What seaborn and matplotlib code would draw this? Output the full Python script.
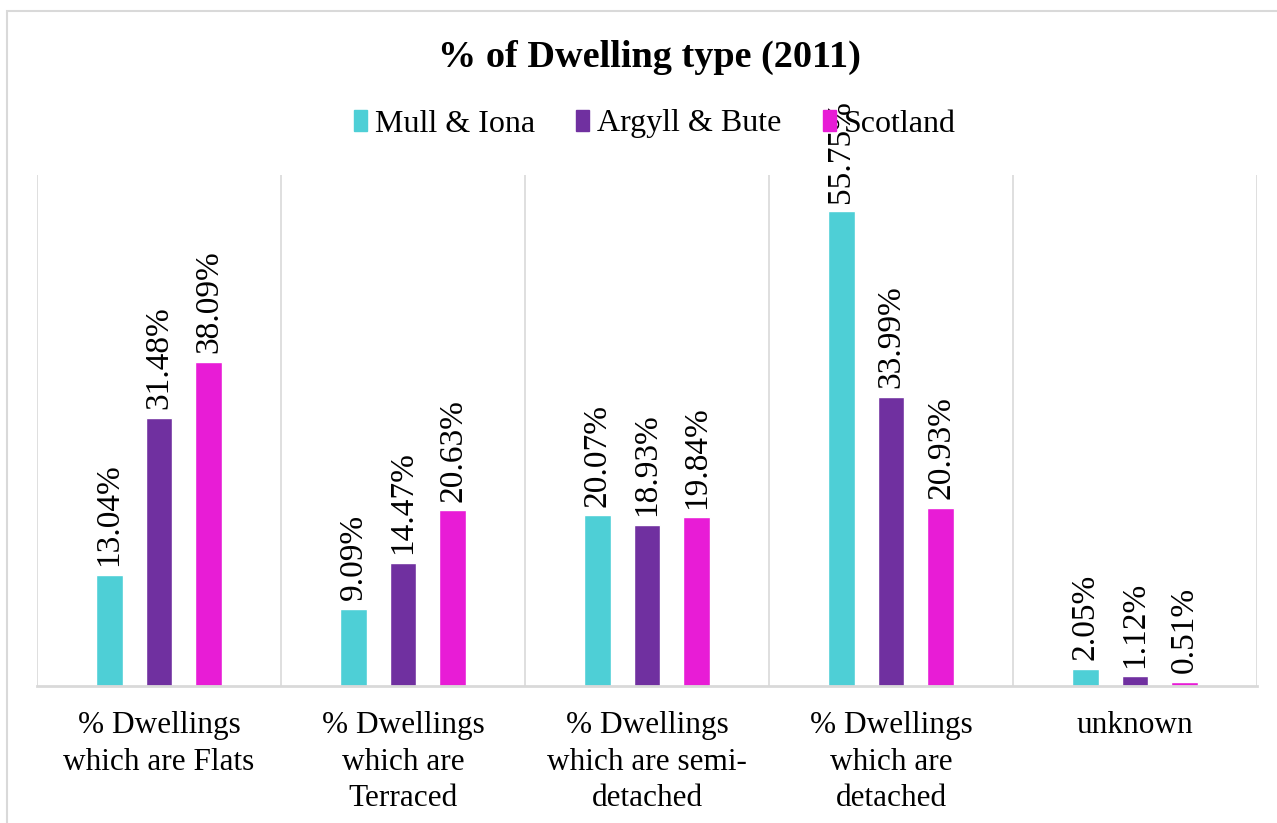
import pandas as pd
import matplotlib.pyplot as plt
import seaborn as sns
from matplotlib.patches import Rectangle

# data
categories = ["% Dwellings\nwhich are Flats", "% Dwellings\nwhich are\nTerraced",
              "% Dwellings\nwhich are semi-\ndetached", "% Dwellings\nwhich are\ndetached",
              "unknown"]
series = ["Mull & Iona", "Argyll & Bute", "Scotland"]
mull = [13.04, 9.09, 20.07, 55.75, 2.05]
argyll = [31.48, 14.47, 18.93, 33.99, 1.12]
scotland = [38.09, 20.63, 19.84, 20.93, 0.51]
colors = ["#4ECFD6", "#7030A0", "#E81CD6"]

rows = []
for name, vals in zip(series, [mull, argyll, scotland]):
    for c, v in zip(categories, vals):
        rows.append({"category": c, "series": name, "value": v})
df = pd.DataFrame(rows)

sns.set_style("white")
plt.rcParams["font.family"] = ["Liberation Serif", "DejaVu Serif"]
plt.rcParams["text.color"] = "black"
plt.rcParams["xtick.color"] = "black"

fig = plt.figure(figsize=(12.77, 8.23), dpi=100)
ax = fig.add_axes([37 / 1277, 137 / 823, 1220 / 1277, 511 / 823])

sns.barplot(data=df, x="category", y="value", hue="series", palette=colors,
            width=0.612, gap=0.46, ax=ax, legend=False, saturation=1)

# value labels
for cont, vals in zip(ax.containers, [mull, argyll, scotland]):
    for bar, v in zip(cont, vals):
        ax.text(bar.get_x() + bar.get_width() / 2, bar.get_height() + 1.0,
                f"{v:.2f}%", rotation=90, ha="center", va="bottom",
                fontsize=24, color="black")

ax.set_ylim(0, 60)
ax.set_xlim(-0.5, len(categories) - 0.5)
ax.set_yticks([])
ax.set_xlabel("")
ax.set_ylabel("")
ax.tick_params(axis="x", length=0, pad=18, labelsize=22.5, labelcolor="black")
for lbl in ax.get_xticklabels():
    lbl.set_linespacing(1.35)

for s in ["top", "right", "left"]:
    ax.spines[s].set_visible(False)
ax.spines["bottom"].set_color("#D9D9D9")
ax.spines["bottom"].set_linewidth(2)

# category separators
for x in range(len(categories) + 1):
    ax.axvline(x - 0.5, color="#D9D9D9", lw=1.2, zorder=0)

# legend
handles = [Rectangle((0, 0), 1, 1, color=c) for c in colors]
fig.legend(handles, series, loc="center", bbox_to_anchor=(655 / 1277, 1 - 124 / 823),
           ncol=3, frameon=False, fontsize=23, handlelength=0.4, handleheight=0.65,
           handletextpad=0.25, columnspacing=1.3, labelcolor="black")

fig.text(649 / 1277, 1 - 57 / 823, "% of Dwelling type (2011)", ha="center", va="center",
         fontsize=27.5, fontweight="bold", color="black")

# outer frame
fig.patches.append(Rectangle((7 / 1277, -0.1), 1.2, 1.1 - 11 / 823, transform=fig.transFigure,
                             fill=False, edgecolor="#D9D9D9", lw=1.5))

fig.savefig("out.png", dpi=100)
